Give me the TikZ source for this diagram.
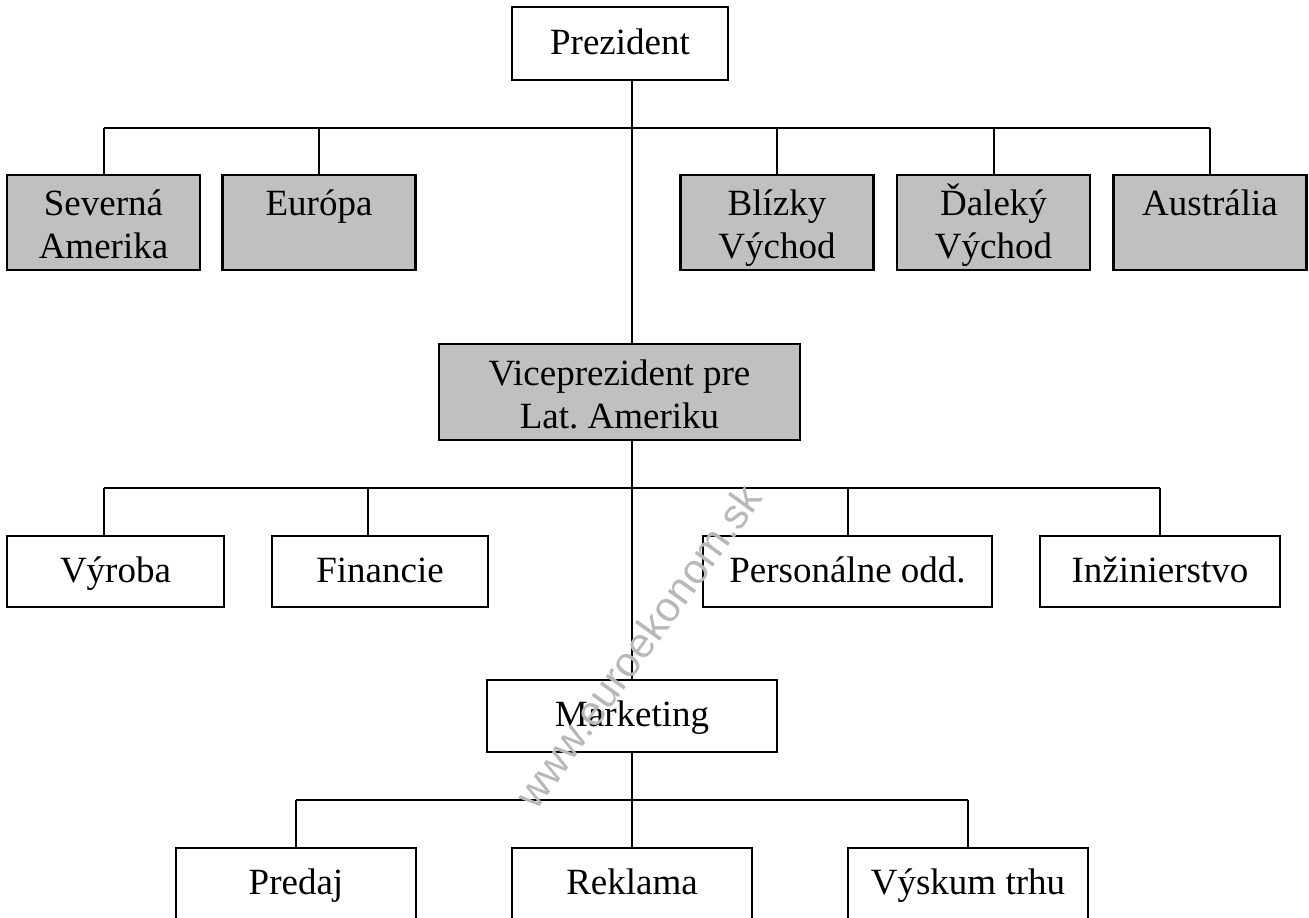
\documentclass[tikz,border=0pt]{standalone}
\usepackage{fontspec}
\setmainfont{Liberation Serif}
\newfontfamily\wmfont{Liberation Sans}
\definecolor{boxgray}{RGB}{192,192,192}
\newcommand\boxstrut{\rule[-6.5pt]{0pt}{23.5pt}}

\begin{document}
\begin{tikzpicture}[
    x=0.5pt, y=-0.5pt,
    every node/.style={font=\fontsize{18.5}{21.5}\selectfont, align=center, inner sep=0pt},
    unit/.style={draw, line width=1.3pt, fill=white,
      execute at begin node=\boxstrut, execute at end node=\boxstrut},
    twoline/.style={unit, fill=boxgray, execute at begin node={}, execute at end node={},
      text height=37pt, text depth=1pt},
    region/.style={twoline, minimum width=96.5pt, minimum height=47.5pt},
    dept/.style={unit, minimum height=35.5pt},
    sub/.style={unit, minimum width=120pt, minimum height=36pt},
    link/.style={line width=1pt}
  ]
  \useasboundingbox (0,0) rectangle (1309,917);
  \clip (0,0) rectangle (1309,917);

  % Top
  \node[unit, minimum width=108pt, minimum height=36.5pt] (prez) at (620,43.5) {Prezident};

  % Regions
  \node[region] (sam) at (103.5,222.5) {Severná\\Amerika};
  \node[region] (eur) at (319,222.5) {Európa\\\mbox{}};
  \node[region] (bv) at (777,222.5) {Blízky\\Východ};
  \node[region] (dv) at (993.5,222.5) {Ďaleký\\Východ};
  \node[region] (aus) at (1210,222.5) {Austrália\\\mbox{}};

  % Vice
  \node[twoline, minimum width=180.5pt, minimum height=48pt] (vp) at (619.5,392) {Viceprezident pre\\Lat.\ Ameriku};

  % Departments
  \node[dept, minimum width=108.5pt] (vyr) at (115.5,571.5) {Výroba};
  \node[dept, minimum width=108pt] (fin) at (380,571.5) {Financie};
  \node[dept, minimum width=144.5pt] (pers) at (847.5,571.5) {Personálne odd.};
  \node[dept, minimum width=120pt] (inz) at (1160,571.5) {Inžinierstvo};

  % Marketing
  \node[unit, minimum width=145pt, minimum height=36pt] (mkt) at (632,716) {Marketing};
  \node[sub] (pred) at (296,884) {Predaj};
  \node[sub] (rekl) at (632,884) {Reklama};
  \node[sub] (vysk) at (968,884) {Výskum trhu};

  % Bars
  \coordinate (bar1) at (0,128);
  \coordinate (bar2) at (0,487.5);
  \coordinate (bar3) at (0,800);
  \coordinate (vyrtop) at ([xshift=-6pt]vyr.north);
  \coordinate (fintop) at ([xshift=-6pt]fin.north);

  % Connectors
  \draw[link] (prez.south -| mkt.north) -- (vp.north -| mkt.north);
  \draw[link] (vp.south -| mkt.north) -- (mkt.north);
  \draw[link] (mkt.south) -- (rekl.north);
  \draw[link] (sam.north |- bar1) -- (aus.north |- bar1);
  \foreach \n in {sam,eur,bv,dv,aus}
    \draw[link] (\n.north) -- (\n.north |- bar1);
  \draw[link] (vyrtop |- bar2) -- (inz.north |- bar2);
  \foreach \n in {vyrtop,fintop,pers.north,inz.north}
    \draw[link] (\n) -- (\n |- bar2);
  \draw[link] (pred.north |- bar3) -- (vysk.north |- bar3);
  \foreach \n in {pred,vysk}
    \draw[link] (\n.north) -- (\n.north |- bar3);

  % Watermark
  \node[rotate=54, text=black!28, font=\wmfont\fontsize{21}{21}\selectfont] (wm) at (638,646) {www.euroekonom.sk};
\end{tikzpicture}
\end{document}
